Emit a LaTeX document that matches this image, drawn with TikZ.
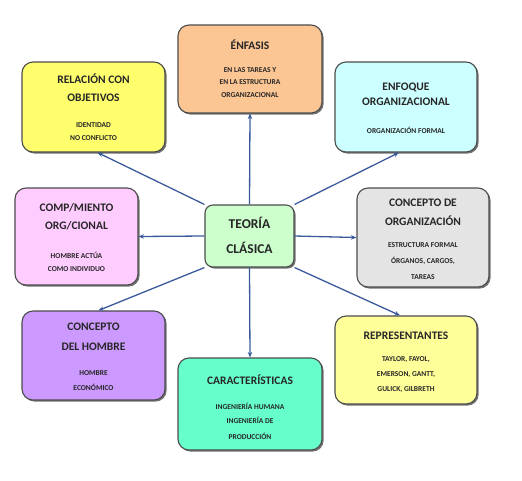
\documentclass[tikz,border=0pt]{standalone}
\usepackage{fontspec}
\setmainfont{Carlito}
\usetikzlibrary{shadows,arrows.meta}
\definecolor{cEnf}{HTML}{FBC594}
\definecolor{cRel}{HTML}{FFFF6E}
\definecolor{cEnq}{HTML}{CCFFFF}
\definecolor{cCom}{HTML}{FFCCFF}
\definecolor{cOrg}{HTML}{E4E4E4}
\definecolor{cCen}{HTML}{CCFFCC}
\definecolor{cHom}{HTML}{CC99FF}
\definecolor{cRep}{HTML}{FFFF99}
\definecolor{cCar}{HTML}{66FFCC}
\definecolor{cLine}{HTML}{3A5A9C}
\tikzset{
  box/.style={draw=black!70, line width=1.1pt, rounded corners=11pt, inner sep=0pt,
    drop shadow={shadow xshift=1.6pt, shadow yshift=-1.6pt, fill=black!55, opacity=1}},
  ttl/.style={font=\fontsize{11.5}{13}\selectfont\bfseries, inner sep=0pt, text=black!85},
  sml/.style={font=\fontsize{7.5}{9}\selectfont\bfseries, inner sep=0pt, text=black!85},
  con/.style={draw=cLine, line width=1.3pt, -{Stealth[length=5.5pt,width=4.5pt]}}
}
\begin{document}
\begin{tikzpicture}[x=1pt,y=-1pt]
\useasboundingbox (0,0) rectangle (522,480);
% boxes
\node[box, fill=cEnf, minimum width=144pt, minimum height=88pt] (enfa) at (250,69) {};
\node[box, fill=cRel, minimum width=143pt, minimum height=90pt] (rel) at (93.5,107) {};
\node[box, fill=cEnq, minimum width=142pt, minimum height=90pt] (enq) at (406,107) {};
\node[box, fill=cCom, minimum width=123pt, minimum height=97pt] (comp) at (76.5,236.5) {};
\node[box, fill=cOrg, minimum width=132pt, minimum height=99pt] (corg) at (423,237.5) {};
\node[box, fill=cCen, minimum width=89pt, minimum height=62pt, rounded corners=8pt] (c) at (249.5,236) {};
\node[box, fill=cHom, minimum width=143pt, minimum height=89pt] (hom) at (93.5,355.5) {};
\node[box, fill=cRep, minimum width=142pt, minimum height=88pt] (rep) at (406,360) {};
\node[box, fill=cCar, minimum width=144pt, minimum height=92pt] (car) at (250,404) {};
% texts
\node[ttl] (enfa1) at (250,45) {ÉNFASIS};
\node[sml] (enfa2) at (250,70) {EN LAS TAREAS Y};
\node[sml] (enfa3) at (250,82.5) {EN LA ESTRUCTURA};
\node[sml] (enfa4) at (250,95) {ORGANIZACIONAL};

\node[ttl] (rel1) at (93.5,79) {RELACIÓN CON};
\node[ttl] (rel2) at (93.5,98) {OBJETIVOS};
\node[sml] (rel3) at (93.5,125) {IDENTIDAD};
\node[sml] (rel4) at (93.5,138) {NO CONFLICTO};

\node[ttl] (enq1) at (406,87) {ENFOQUE};
\node[ttl] (enq2) at (406,102) {ORGANIZACIONAL};
\node[sml] (enq3) at (406,130) {ORGANIZACIÓN FORMAL};

\node[ttl] (comp1) at (76.5,208) {COMP/MIENTO};
\node[ttl] (comp2) at (76.5,226) {ORG/CIONAL};
\node[sml] (comp3) at (76.5,255) {HOMBRE ACTÚA};
\node[sml] (comp4) at (76.5,269) {COMO INDIVIDUO};

\node[ttl] (corg1) at (423,203) {CONCEPTO DE};
\node[ttl] (corg2) at (423,221) {ORGANIZACIÓN};
\node[sml] (corg3) at (423,245) {ESTRUCTURA FORMAL};
\node[sml] (corg4) at (423,261) {ÓRGANOS, CARGOS,};
\node[sml] (corg5) at (423,277) {TAREAS};

\node[font=\fontsize{13.5}{15}\selectfont\bfseries, inner sep=0pt, text=black!85] (c1) at (249.5,223) {TEORÍA};
\node[font=\fontsize{13.5}{15}\selectfont\bfseries, inner sep=0pt, text=black!85] (c2) at (249.5,248) {CLÁSICA};

\node[ttl] (hom1) at (93.5,327) {CONCEPTO};
\node[ttl] (hom2) at (93.5,347) {DEL HOMBRE};
\node[sml] (hom3) at (93.5,373) {HOMBRE};
\node[sml] (hom4) at (93.5,387) {ECONÓMICO};

\node[ttl] (rep1) at (406,336) {REPRESENTANTES};
\node[sml] (rep2) at (406,360) {TAYLOR, FAYOL,};
\node[sml] (rep3) at (406,375) {EMERSON, GANTT,};
\node[sml] (rep4) at (406,390) {GULICK, GILBRETH};

\node[ttl] (car1) at (250,380) {CARACTERÍSTICAS};
\node[sml] (car2) at (250,406) {INGENIERÍA HUMANA};
\node[sml] (car3) at (250,420) {INGENIERÍA DE};
\node[sml] (car4) at (250,436) {PRODUCCIÓN};
% connectors
\draw[con] (c.north) -- (enfa.south);
\draw[con] (c.south) -- (car.north);
\draw[con] (c.west) -- (comp.east);
\draw[con] (c.east) -- (corg.west);
\draw[con] (c.north west) -- ([xshift=4pt]rel.south);
\draw[con] (c.north east) -- ([xshift=-7pt]enq.south);
\draw[con] (c.south west) -- ([xshift=5pt]hom.north);
\draw[con] (c.south east) -- ([xshift=-6pt]rep.north);
\end{tikzpicture}
\end{document}
